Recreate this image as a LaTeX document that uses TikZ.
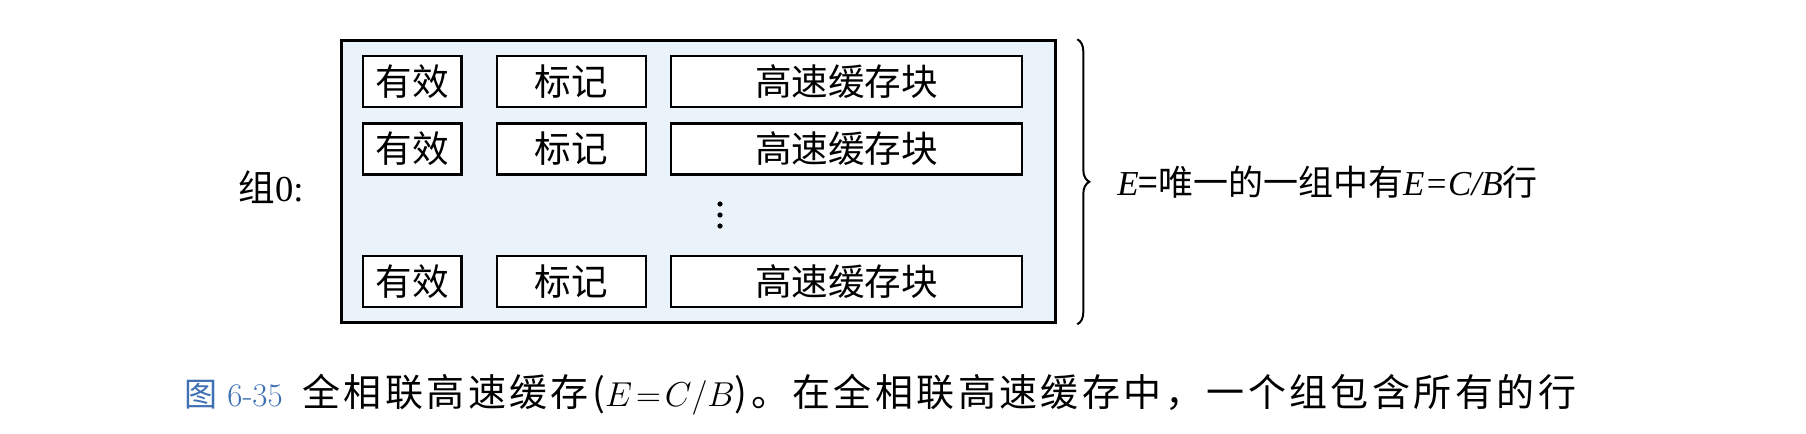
\documentclass[tikz,border=0pt]{standalone}
\usepackage{fontspec}
\newfontfamily\cjk{Noto Sans CJK SC}
\newfontfamily\cjkcap[LetterSpace=9]{Noto Sans CJK SC}
\newfontfamily\lat{Liberation Serif}
\usetikzlibrary{decorations.pathreplacing}
\definecolor{setfill}{HTML}{EAF3FA}
\definecolor{capblue}{HTML}{4070B4}

\begin{document}
\begin{tikzpicture}[x=0.5pt, y=-0.5pt,
    every node/.style={font=\cjk\fontsize{18.3}{20}\selectfont, inner sep=0pt},
    field/.style={draw, line width=1.2pt, fill=white, minimum height=25.5pt}]
  \useasboundingbox (0,0) rectangle (1806,434);
  \node[draw, line width=1.5pt, fill=setfill, minimum width=357pt, minimum height=141pt] (set) at (698.8,181.8) {};
  \foreach \i/\y in {1/81.5, 2/149, 3/281.5} {
    \node[field, minimum width=49.3pt] (valid\i) at (412.3,\y) {有效};
    \node[field, minimum width=74.6pt] (tag\i) at (571.3,\y) {标记};
    \node[field, minimum width=175.5pt] (block\i) at (846.5,\y) {高速缓存块};
  }
  \foreach \y in {204,215,226}
    \fill (720,\y) circle (1.3pt);
  \node[anchor=west] (setlabel) at (238,187) {组{\lat 0:}};
  \draw[line width=1pt, decoration={brace, amplitude=6pt}, decorate]
    ([xshift=10pt]set.north east) -- ([xshift=10pt]set.south east) coordinate[midway] (mid);
  \node[anchor=west, font=\cjk\fontsize{17.5}{20}\selectfont] (lines) at (1117,182)
    {{\lat\itshape E}=唯一的一组中有{\lat\itshape E=C/B}行};
  \node[anchor=west, text=capblue, font=\fontsize{16.5}{20}\selectfont] (fignum) at (184,395) {{\cjk 图} 6-35};
  \node[anchor=west, font=\cjkcap\fontsize{19}{22}\selectfont] (caption) at (302,395)
    {全相联高速缓存($E\!=\!C/B$)。在全相联高速缓存中，一个组包含所有的行};
\end{tikzpicture}
\end{document}
